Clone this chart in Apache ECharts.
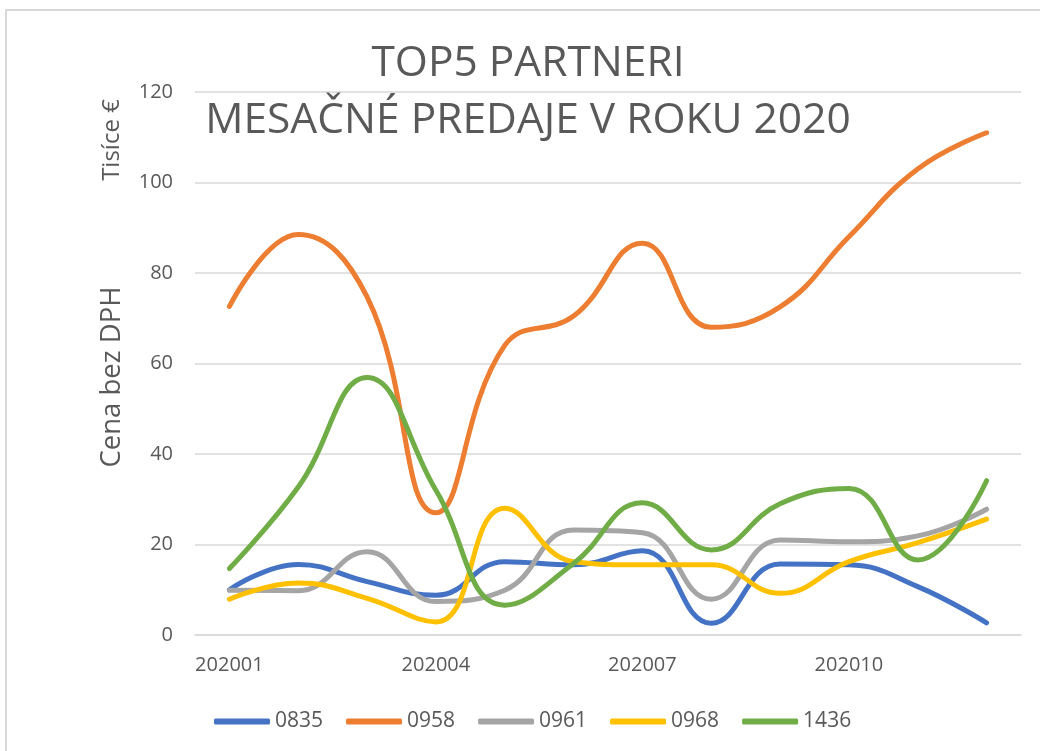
<!DOCTYPE html>
<html>
<head>
<meta charset="utf-8">
<script src="https://cdn.jsdelivr.net/npm/echarts@6/dist/echarts.min.js"></script>
<style>
html,body{margin:0;padding:0;background:#fff;}
#main{width:1040px;height:751px;}
</style>
</head>
<body>
<div id="main"></div>
<script>
var categories = ['202001','202002','202003','202004','202005','202006','202007','202008','202009','202010','202011','202012'];
var seriesNames = ['0835','0958','0961','0968','1436'];
var s0835 = [10, 15.6, 11.8, 8.8, 16.2, 15.5, 18.6, 2.6, 15.7, 15.5, 10.7, 2.7];
var s0958 = [72.6, 88.5, 74.7, 27, 64, 70.5, 86.6, 68, 72.5, 88, 103, 111];
var s0961 = [9.9, 9.8, 18.4, 7.4, 9.9, 23.2, 22.6, 7.9, 21, 20.6, 21.9, 27.8];
var s0968 = [7.9, 11.5, 8.1, 2.9, 28, 16.2, 15.5, 15.5, 9.2, 16.2, 20.4, 25.6];
var s1436 = [14.7, 32.7, 56.9, 32, 6.6, 15.8, 29.2, 18.8, 29, 32.4, 16.6, 34.1];
var yTicks = [0, 20, 40, 60, 80, 100, 120];
var titleLines = ['TOP5 PARTNERI', 'MESAČNÉ PREDAJE V ROKU 2020'];
var unitLabel = 'Tisíce €';
var axisTitle = 'Cena bez DPH';

var colors = ['#4472C4', '#ED7D31', '#A5A5A5', '#FFC000', '#70AD47'];
var allData = [s0835, s0958, s0961, s0968, s1436];
var FONT = 'Open Sans';
var TXT = '#595959';

var chart = echarts.init(document.getElementById('main'), null, {renderer: 'canvas'});
var option = {
  backgroundColor: '#fff',
  animation: false,
  color: colors,
  title: {
    text: titleLines.join('\n'),
    left: 523,
    top: 30,
    textAlign: 'center',
    textStyle: {fontFamily: FONT, fontSize: 42.5, fontWeight: 'normal', color: TXT, lineHeight: 57}
  },
  graphic: [
    {type: 'rect', shape: {x: 6, y: 10, width: 1100, height: 800}, style: {fill: 'none', stroke: '#d9d9d9', lineWidth: 2}, silent: true, z: -10},
    {type: 'text', x: 112, y: 140, rotation: Math.PI / 2,
     style: {text: unitLabel, fontFamily: FONT, fontSize: 24, fill: TXT, align: 'center', verticalAlign: 'middle'}},
    {type: 'text', x: 112, y: 377, rotation: Math.PI / 2,
     style: {text: axisTitle, fontFamily: FONT, fontSize: 27.5, fill: TXT, align: 'center', verticalAlign: 'middle'}}
  ],
  legend: {
    data: seriesNames,
    left: 209,
    top: 706,
    itemWidth: 56,
    itemHeight: 6,
    itemGap: 23,
    icon: 'roundRect',
    textStyle: {fontFamily: FONT, fontSize: 21, color: TXT}
  },
  grid: {left: 195, right: 19, top: 92, bottom: 116, containLabel: false},
  xAxis: {
    type: 'category',
    data: categories,
    boundaryGap: true,
    axisLine: {show: true, lineStyle: {color: '#d9d9d9', width: 1.5}},
    axisTick: {show: false},
    axisLabel: {interval: 2, fontFamily: FONT, fontSize: 20, color: TXT, margin: 20}
  },
  yAxis: {
    type: 'value',
    min: yTicks[0],
    max: yTicks[yTicks.length - 1],
    interval: yTicks[1] - yTicks[0],
    axisLine: {show: false},
    axisTick: {show: false},
    axisLabel: {fontFamily: FONT, fontSize: 20, color: TXT, margin: 22},
    splitLine: {lineStyle: {color: '#d9d9d9', width: 1.5}}
  },
  series: seriesNames.map(function (n, i) {
    return {
      name: n,
      type: 'line',
      data: allData[i],
      smooth: 0.45,
      symbol: 'none',
      showSymbol: false,
      lineStyle: {width: 5, color: colors[i], cap: 'round', join: 'round'},
      itemStyle: {color: colors[i]}
    };
  })
};
chart.setOption(option);
</script>
</body>
</html>
